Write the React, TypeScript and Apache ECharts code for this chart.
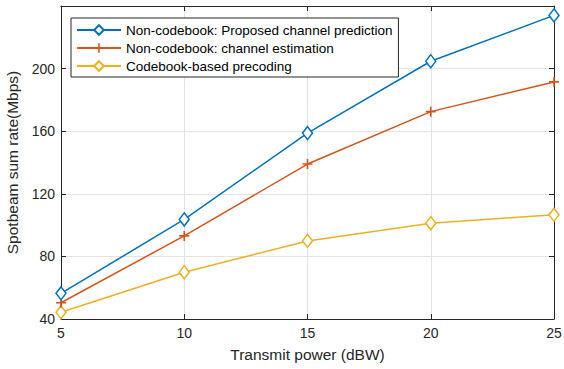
import React, { useEffect, useRef } from "react";
import * as echarts from "echarts";

const powers = [5, 10, 15, 20, 25];
const proposed = [56.4, 103.6, 158.8, 204.7, 234];
const estimation = [50.4, 93.1, 139, 172.5, 191.5];
const codebook = [44.3, 69.9, 89.9, 101.2, 106.6];
const seriesNames = [
  "Non-codebook: Proposed channel prediction",
  "Non-codebook: channel estimation",
  "Codebook-based precoding",
];
const colors = ["#0072BD", "#D95319", "#EDB120"];

const FONT = "'Liberation Sans', Arial, sans-serif";
const PLUS = "path://M4.2,0h1.6v10h-1.6z M0,4.2h10v1.6h-10z";

export default function App() {
  const ref = useRef<HTMLDivElement>(null);
  useEffect(() => {
    const chart = echarts.init(ref.current!, null, { renderer: "svg" });
    const axisColor = "#262626";
    const gridColor = "#e3e3e3";
    const mk = (name: string, vals: number[], i: number, sym: string, size: any) => ({
      name,
      type: "line",
      data: powers.map((p, k) => [p, vals[k]]),
      symbol: sym,
      symbolSize: size,
      showSymbol: true,
      lineStyle: { color: colors[i], width: 1.5 },
      itemStyle:
        sym === PLUS
          ? { color: colors[i], borderWidth: 0 }
          : { color: "#ffffff", borderColor: colors[i], borderWidth: 1.5 },
      z: 3 + (2 - i),
    });
    chart.setOption({
      animation: false,
      textStyle: { fontFamily: FONT },
      grid: { left: 61, right: 10, top: 6, bottom: 50, show: false, outerBoundsMode: "none", containLabel: false },
      legend: {
        orient: "vertical",
        left: 71,
        top: 18,
        itemWidth: 44,
        itemHeight: 12,
        itemGap: 4,
        itemTextGap: 5,
        padding: [5, 6, 4, 5],
        borderColor: "#262626",
        borderWidth: 1,
        backgroundColor: "#ffffff",
        textStyle: { fontSize: 13.5, color: "#000", fontFamily: FONT },
        data: seriesNames,
      },
      xAxis: [
        {
          type: "value",
          min: 5,
          max: 25,
          interval: 5,
          name: "Transmit power (dBW)",
          nameLocation: "middle",
          nameGap: 27,
          nameTextStyle: { fontSize: 15.5, color: axisColor, fontFamily: FONT },
          axisLine: { show: true, lineStyle: { color: axisColor, width: 1 } },
          axisTick: { show: true, inside: true, length: 5, lineStyle: { color: axisColor } },
          axisLabel: { fontSize: 14, color: axisColor, margin: 7, fontFamily: FONT },
          splitLine: { show: true, lineStyle: { color: gridColor, width: 1 } },
        },
        {
          type: "value",
          position: "top",
          min: 5,
          max: 25,
          interval: 5,
          axisLine: { show: true, onZero: false, lineStyle: { color: axisColor, width: 1 } },
          axisTick: { show: true, inside: true, length: 5, lineStyle: { color: axisColor } },
          axisLabel: { show: false },
          splitLine: { show: false },
        },
      ],
      yAxis: [
        {
          type: "value",
          min: 40,
          max: 240,
          interval: 40,
          name: "Spotbeam sum rate(Mbps)",
          nameLocation: "middle",
          nameGap: 36,
          nameTextStyle: { fontSize: 15.5, color: axisColor, fontFamily: FONT },
          axisLine: { show: true, lineStyle: { color: axisColor, width: 1 } },
          axisTick: { show: true, inside: true, length: 5, lineStyle: { color: axisColor } },
          axisLabel: {
            fontSize: 14,
            color: axisColor,
            margin: 6,
            fontFamily: FONT,
            formatter: (v: number) => (v >= 240 ? "" : String(v)),
          },
          splitLine: { show: true, lineStyle: { color: gridColor, width: 1 } },
        },
        {
          type: "value",
          position: "right",
          min: 40,
          max: 240,
          interval: 40,
          axisLine: { show: true, onZero: false, lineStyle: { color: axisColor, width: 1 } },
          axisTick: { show: true, inside: true, length: 5, lineStyle: { color: axisColor } },
          axisLabel: { show: false },
          splitLine: { show: false },
        },
      ],
      series: [
        mk(seriesNames[0], proposed, 0, "diamond", [10, 13]),
        mk(seriesNames[1], estimation, 1, PLUS, 10),
        mk(seriesNames[2], codebook, 2, "diamond", [10, 13]),
      ],
    });
    return () => chart.dispose();
  }, []);
  return <div ref={ref} style={{ width: 564, height: 369, position: "absolute", left: 0, top: 0, background: "#fff" }} />;
}
